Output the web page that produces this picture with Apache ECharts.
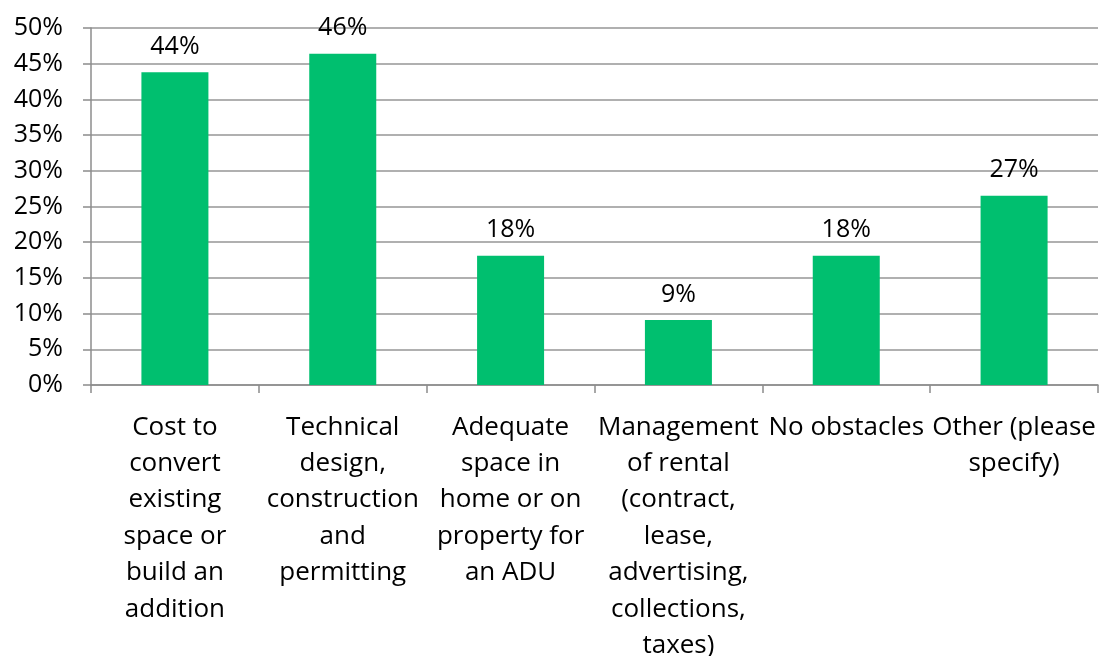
<!DOCTYPE html>
<html>
<head>
<meta charset="utf-8">
<script src="https://cdn.jsdelivr.net/npm/echarts@6/dist/echarts.min.js"></script>
<style>
  html, body { margin: 0; padding: 0; background: #fff; }
  #chart { width: 1103px; height: 656px; }
</style>
</head>
<body>
<div id="chart"></div>
<script>
// Obstacles to building an ADU (share of respondents)
const categories = [
  'Cost to\nconvert\nexisting\nspace or\nbuild an\naddition',
  'Technical\ndesign,\nconstruction\nand\npermitting',
  'Adequate\nspace in\nhome or on\nproperty for\nan ADU',
  'Management\nof rental\n(contract,\nlease,\nadvertising,\ncollections,\ntaxes)',
  'No obstacles',
  'Other (please\nspecify)'
];
const shares = [43.8, 46.4, 18.1, 9.1, 18.1, 26.5];
const yTicks = { min: 0, max: 50, interval: 5 };

const FONT = '"Open Sans", "Noto Sans", sans-serif';
const chart = echarts.init(document.getElementById('chart'), null, { renderer: 'canvas' });
chart.setOption({
  animation: false,
  backgroundColor: '#ffffff',
  grid: { left: 91, right: 5, top: 28, bottom: 271, containLabel: false, outerBoundsMode: 'none' },
  xAxis: {
    type: 'category',
    data: categories,
    axisLine: { show: true, lineStyle: { color: '#8c8c8c', width: 1.5 } },
    axisTick: { show: true, alignWithLabel: false, length: 8, lineStyle: { color: '#8c8c8c', width: 1.5 } },
    axisLabel: {
      interval: 0,
      color: '#000',
      fontFamily: FONT,
      fontSize: 26,
      lineHeight: 36.4,
      margin: 24,
      verticalAlign: 'top'
    },
    splitLine: { show: false }
  },
  yAxis: {
    type: 'value',
    min: yTicks.min,
    max: yTicks.max,
    interval: yTicks.interval,
    axisLine: { show: true, lineStyle: { color: '#8c8c8c', width: 1.5 } },
    axisTick: { show: true, length: 8, lineStyle: { color: '#8c8c8c', width: 1.5 } },
    axisLabel: {
      formatter: v => v + '%',
      color: '#000',
      fontFamily: FONT,
      fontSize: 25,
      margin: 28
    },
    splitLine: { show: true, lineStyle: { color: '#969696', width: 1.5 } }
  },
  series: [{
    type: 'bar',
    data: shares,
    barWidth: 67,
    itemStyle: { color: '#00bf6f' },
    label: {
      show: true,
      position: 'top',
      distance: 13,
      formatter: p => Math.round(p.value) + '%',
      color: '#000',
      fontFamily: FONT,
      fontSize: 25
    }
  }]
});
</script>
</body>
</html>
